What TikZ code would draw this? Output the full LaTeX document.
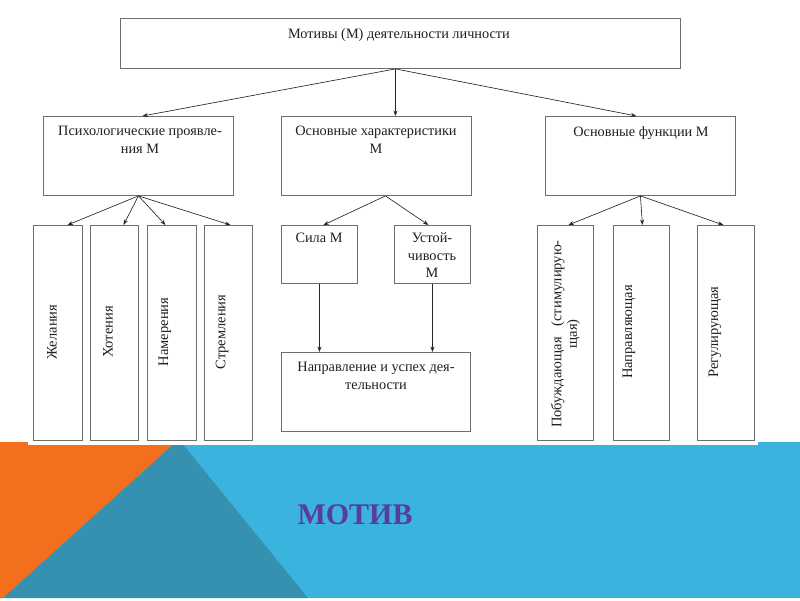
\documentclass[tikz,border=0pt]{standalone}
\usepackage{fontspec}
\setmainfont{Liberation Serif}
\usetikzlibrary{arrows.meta}
\definecolor{bandblue}{HTML}{3AB4DE}
\definecolor{bandteal}{HTML}{3691B0}
\definecolor{bandorange}{HTML}{F36F1E}
\definecolor{titlepurple}{HTML}{5A3BA0}
\definecolor{boxgray}{HTML}{6E6E6E}
\begin{document}
\begin{tikzpicture}[x=1pt,y=-1pt,
  box/.style={draw=boxgray, line width=0.9pt, anchor=north west, inner sep=0pt},
  lbl/.style={font=\fontsize{14.3}{17.5}\selectfont, align=center, inner sep=0pt, text=black!88},
  vlbl/.style={font=\fontsize{14.5}{15.5}\selectfont, align=center, inner sep=0pt, rotate=90, text=black!88},
  arr/.style={-{Stealth[length=5.5pt,width=4pt]}, line width=0.65pt, black!85}]
\useasboundingbox (0,0) rectangle (800,600);
\fill[white] (0,0) rectangle (800,600);
% bottom band
\fill[bandblue] (0,442) rectangle (800,598);
\fill[bandorange] (0,442) -- (176,442) -- (3,598) -- (0,598) -- cycle;
\fill[bandteal] (176,442) -- (181,442) -- (308,598) -- (3,598) -- cycle;
\fill[white] (28,400) rectangle (758,445);
\node[font=\bfseries\fontsize{30}{30}\selectfont, text=titlepurple, inner sep=0pt] (title) at (355,515) {МОТИВ};
% boxes
\node[box, minimum width=560pt, minimum height=50pt] (top) at (120,18) {};
\node[box, minimum width=190pt, minimum height=79pt] (pm) at (43,116) {};
\node[box, minimum width=190pt, minimum height=79pt] (ch) at (281,116) {};
\node[box, minimum width=190pt, minimum height=79pt] (fn) at (545,116) {};
\node[box, minimum width=49pt, minimum height=215pt] (w1) at (33,225) {};
\node[box, minimum width=48pt, minimum height=215pt] (w2) at (90,225) {};
\node[box, minimum width=49pt, minimum height=215pt] (w3) at (147,225) {};
\node[box, minimum width=48pt, minimum height=215pt] (w4) at (204,225) {};
\node[box, minimum width=76pt, minimum height=58pt] (sila) at (281,225) {};
\node[box, minimum width=76pt, minimum height=58pt] (ust) at (394,225) {};
\node[box, minimum width=189pt, minimum height=79pt] (napr) at (281,352) {};
\node[box, minimum width=56pt, minimum height=215pt] (f1) at (537,225) {};
\node[box, minimum width=56pt, minimum height=215pt] (f2) at (613,225) {};
\node[box, minimum width=57pt, minimum height=215pt] (f3) at (697,225) {};
% texts
\node[lbl, anchor=north] (ttop) at (399,28) {Мотивы (М) деятельности личности};
\node[lbl, anchor=north] (tpm) at (140,126) {Психологические проявле-\\ния М};
\node[lbl, anchor=north] (tch) at (376,126) {Основные характеристики\\М};
\node[lbl, anchor=north] (tfn) at (641,126) {Основные функции М};
\node[lbl, anchor=north] (tsila) at (319,233) {Сила М};
\node[lbl, anchor=north] (tust) at (432,233) {Устой-\\чивость\\М};
\node[lbl, anchor=north] (tnapr) at (376,362) {Направление и успех дея-\\тельности};
\node[vlbl] (tw1) at (52,332) {Желания};
\node[vlbl] (tw2) at (108,332) {Хотения};
\node[vlbl] (tw3) at (165,332) {Намерения};
\node[vlbl] (tw4) at (222,332) {Стремления};
\node[vlbl] (tf1) at (565.5,334) {Побуждающая\enspace\ (стимулирую-\\щая)};
\node[vlbl] (tf2) at (629,332) {Направляющая};
\node[vlbl] (tf3) at (715,332) {Регулирующая};
% connectors
\draw[arr] ([xshift=-5pt]top.south) -- ([xshift=4pt]pm.north);
\draw[arr] ([xshift=-5pt]top.south) -- ([xshift=19pt]ch.north);
\draw[arr] ([xshift=-5pt]top.south) -- ([xshift=-4pt]fn.north);
\draw[arr] (pm.south) -- ([xshift=9.5pt]w1.north);
\draw[arr] (pm.south) -- ([xshift=9pt]w2.north);
\draw[arr] (pm.south) -- ([xshift=-6.5pt]w3.north);
\draw[arr] (pm.south) -- ([xshift=2pt]w4.north);
\draw[arr] ([xshift=9pt]ch.south) -- ([xshift=4pt]sila.north);
\draw[arr] ([xshift=9pt]ch.south) -- ([xshift=-4pt]ust.north);
\draw[arr] (sila.south) -- (sila.south |- napr.north);
\draw[arr] (ust.south) -- (ust.south |- napr.north);
\draw[arr] (fn.south) -- ([xshift=3pt]f1.north);
\draw[arr] (fn.south) -- ([xshift=1pt]f2.north);
\draw[arr] (fn.south) -- ([xshift=-2.5pt]f3.north);
\end{tikzpicture}
\end{document}
